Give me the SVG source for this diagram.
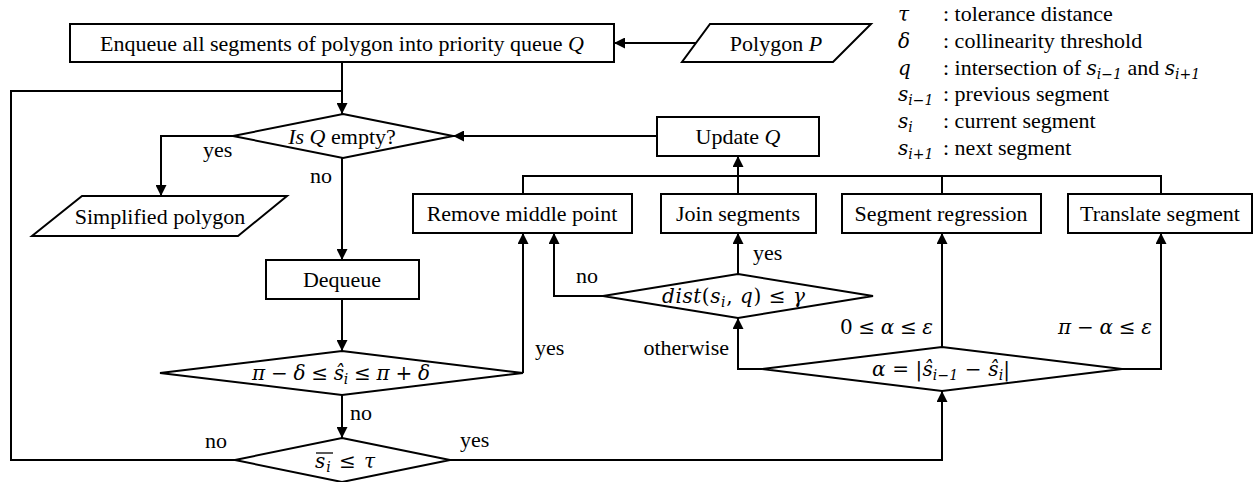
<svg xmlns="http://www.w3.org/2000/svg" width="1254" height="482" viewBox="0 0 1254 482" font-family="'Liberation Serif', 'Times New Roman', serif">
  <defs>
    <marker id="arrow" viewBox="0 0 10 10" refX="10" refY="5" markerWidth="11" markerHeight="11" markerUnits="userSpaceOnUse" orient="auto">
      <path d="M0,0 L10,5 L0,10 Z" fill="#000"/>
    </marker>
    <style>
      .shape { fill: #fff; stroke: #000; stroke-width: 2; }
      .edge { fill: none; stroke: #000; stroke-width: 2; }
      .bar { stroke: #000; stroke-width: 1.3; }
      .arr { marker-end: url(#arrow); }
      text { font-family: "Liberation Serif", "Times New Roman", serif; font-size: 22px; fill: #000; }
      .c { text-anchor: middle; }
      .r { text-anchor: end; }
      .it { font-style: italic; }
      .math { font-family: "DejaVu Serif", "Liberation Serif", serif; font-size: 20px; }
      .m { font-family: "DejaVu Serif", "Liberation Serif", serif; font-style: italic; font-size: 20px; }
      .sub { font-family: "DejaVu Serif", "Liberation Serif", serif; font-size: 14px; font-style: italic; }
    </style>
  </defs>

  <!-- connectors -->
  <g id="connectors">
    <polyline class="edge arr" points="696,43 614,43"/>
    <polyline class="edge arr" points="342,62 342,114"/>
    <polyline class="edge" points="235,460 11,460 11,91 342,91"/>
    <polyline class="edge arr" points="657,136 453,136"/>
    <polyline class="edge arr" points="233,136 161,136 161,196"/>
    <polyline class="edge arr" points="342,158 342,260"/>
    <polyline class="edge arr" points="342,299 342,351"/>
    <polyline class="edge arr" points="523,373 523,233"/>
    <polyline class="edge arr" points="342,395 342,438"/>
    <polyline class="edge arr" points="450,460 942,460 942,391"/>
    <polyline class="edge arr" points="762,369 738,369 738,318"/>
    <polyline class="edge arr" points="942,347 942,233"/>
    <polyline class="edge arr" points="1122,369 1161,369 1161,233"/>
    <polyline class="edge arr" points="738,274 738,233"/>
    <polyline class="edge arr" points="603,296 554,296 554,233"/>
    <polyline class="edge" points="523,194 523,176 1161,176 1161,194"/>
    <polyline class="edge" points="942,194 942,176"/>
    <polyline class="edge arr" points="738,194 738,156"/>
  </g>

  <!-- edge labels -->
  <g id="labels">
    <text x="203" y="157">yes</text>
    <text x="310" y="183">no</text>
    <text x="535" y="355">yes</text>
    <text x="350" y="420">no</text>
    <text x="205" y="448">no</text>
    <text x="460" y="447">yes</text>
    <text x="576" y="283">no</text>
    <text x="753" y="260">yes</text>
    <text class="r" x="729" y="355">otherwise</text>
    <text class="math" x="840" y="334" textLength="93" lengthAdjust="spacing">0 ≤ <tspan class="m">α</tspan> ≤ <tspan class="m">ε</tspan></text>
    <text class="math" x="1058" y="334" textLength="94" lengthAdjust="spacing"><tspan class="m">π</tspan> − <tspan class="m">α</tspan> ≤ <tspan class="m">ε</tspan></text>
  </g>

  <g id="enqueue">
    <rect class="shape" x="70" y="24" width="544" height="38"/>
    <text class="c" x="342" y="51">Enqueue all segments of polygon into priority queue <tspan class="it">Q</tspan></text>
  </g>

  <g id="polygon-input">
    <polygon class="shape" points="710,24 871,24 833,62 682,62"/>
    <text class="c" x="776" y="51">Polygon <tspan class="it">P</tspan></text>
  </g>

  <g id="is-empty">
    <polygon class="shape" points="343,114 453,136 343,158 233,136"/>
    <text class="c" x="342" y="144"><tspan class="it">Is Q</tspan> empty?</text>
  </g>

  <g id="update-q">
    <rect class="shape" x="657" y="117" width="162" height="39"/>
    <text class="c" x="738" y="144">Update <tspan class="it">Q</tspan></text>
  </g>

  <g id="simplified-polygon">
    <polygon class="shape" points="82,196 287,196 238,236 32,236"/>
    <text class="c" x="160" y="224">Simplified polygon</text>
  </g>

  <g id="dequeue">
    <rect class="shape" x="266" y="260" width="153" height="39"/>
    <text class="c" x="342" y="287">Dequeue</text>
  </g>

  <g id="remove-middle">
    <rect class="shape" x="413" y="194" width="219" height="39"/>
    <text class="c" x="522" y="221">Remove middle point</text>
  </g>

  <g id="join-segments">
    <rect class="shape" x="661" y="194" width="155" height="39"/>
    <text class="c" x="738" y="221">Join segments</text>
  </g>

  <g id="segment-regression">
    <rect class="shape" x="842" y="194" width="199" height="39"/>
    <text class="c" x="941" y="221">Segment regression</text>
  </g>

  <g id="translate-segment">
    <rect class="shape" x="1068" y="194" width="184" height="39"/>
    <text class="c" x="1160" y="221">Translate segment</text>
  </g>

  <g id="collinear-check">
    <polygon class="shape" points="342,351 523,373 342,395 160,373"/>
    <text class="math" x="252" y="380" textLength="178" lengthAdjust="spacing"><tspan class="m">π</tspan> − <tspan class="m">δ</tspan> ≤ <tspan class="m">ŝ</tspan><tspan class="sub" dy="4">i</tspan><tspan dy="-4"> ≤ </tspan><tspan class="m">π</tspan> + <tspan class="m">δ</tspan></text>
  </g>

  <g id="length-check">
    <polygon class="shape" points="342,438 450,460 342,482 235,460"/>
    <line class="bar" x1="316" y1="453" x2="333" y2="453"/>
    <text class="math" x="315" y="468" textLength="60" lengthAdjust="spacing"><tspan class="m">s</tspan><tspan class="sub" dy="4">i</tspan><tspan dy="-4"> ≤ </tspan><tspan class="m">τ</tspan></text>
  </g>

  <g id="dist-check">
    <polygon class="shape" points="738,274 873,296 738,318 603,296"/>
    <text class="math" x="662" y="303" textLength="143" lengthAdjust="spacing"><tspan class="m">dist</tspan>(<tspan class="m">s</tspan><tspan class="sub" dy="4">i</tspan><tspan dy="-4">, </tspan><tspan class="m">q</tspan>) ≤ <tspan class="m">γ</tspan></text>
  </g>

  <g id="angle-check">
    <polygon class="shape" points="942,347 1122,369 942,391 762,369"/>
    <text class="math" x="872" y="376" textLength="138" lengthAdjust="spacing"><tspan class="m">α</tspan> = |<tspan class="m">ŝ</tspan><tspan class="sub" dy="4">i−1</tspan><tspan dy="-4"> − </tspan><tspan class="m">ŝ</tspan><tspan class="sub" dy="4">i</tspan><tspan dy="-4">|</tspan></text>
  </g>

  <!-- symbol legend -->
  <g id="legend">
    <text class="m" x="898" y="21">τ</text>
    <text x="943" y="21">: tolerance distance</text>
    <text class="m" x="898" y="48">δ</text>
    <text x="943" y="48">: collinearity threshold</text>
    <text class="m" x="898" y="75">q</text>
    <text x="943" y="75">: intersection of <tspan class="m">s</tspan><tspan class="sub" dy="4">i−1</tspan><tspan dy="-4"> and </tspan><tspan class="m">s</tspan><tspan class="sub" dy="4">i+1</tspan></text>
    <text class="m" x="898" y="101">s<tspan class="sub" dy="4">i−1</tspan></text>
    <text x="943" y="101">: previous segment</text>
    <text class="m" x="898" y="128">s<tspan class="sub" dy="4">i</tspan></text>
    <text x="943" y="128">: current segment</text>
    <text class="m" x="898" y="155">s<tspan class="sub" dy="4">i+1</tspan></text>
    <text x="943" y="155">: next segment</text>
  </g>
</svg>
